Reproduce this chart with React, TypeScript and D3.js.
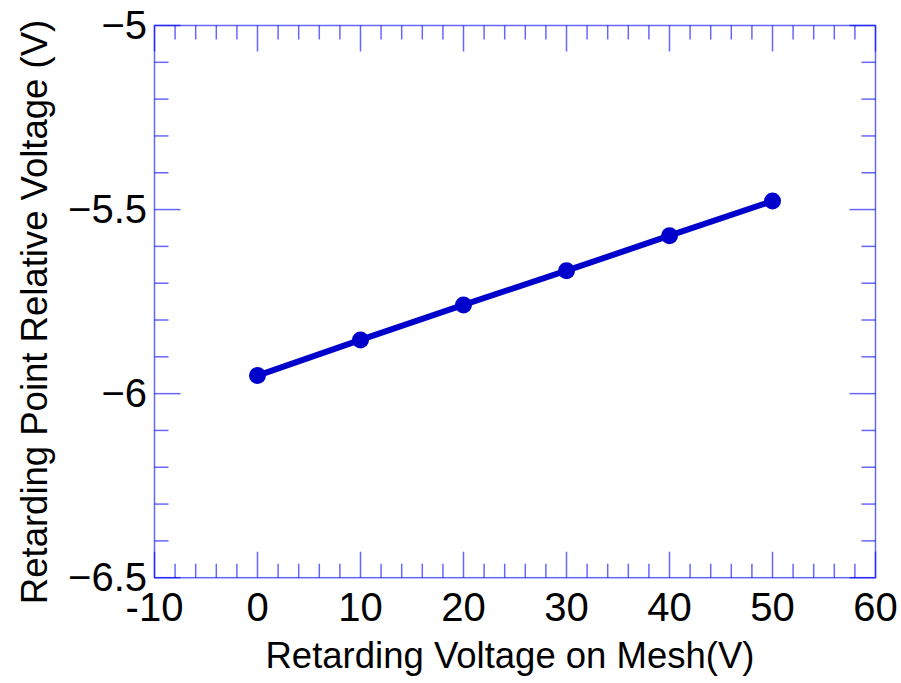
import React from "react";
import * as d3 from "d3";

const meshVoltage = [0, 10, 20, 30, 40, 50];
const retardingPoint = [-5.951, -5.854, -5.759, -5.666, -5.571, -5.477];
const xTickValues = [-10, 0, 10, 20, 30, 40, 50, 60];
const xTickLabels = ["-10", "0", "10", "20", "30", "40", "50", "60"];
const yTickValues = [-5, -5.5, -6, -6.5];
const yTickLabels = ["\u22125", "\u22125.5", "\u22126", "\u22126.5"];

const W = 901;
const H = 683;
const L = 154.5, R = 875.5, T = 25.5, B = 577.7;

export default function App() {
  const x = d3.scaleLinear().domain([-10, 60]).range([L, R]);
  const y = d3.scaleLinear().domain([-6.5, -5]).range([B, T]);
  const xMinor = d3.range(-10, 60.001, 2);
  const yMinor = d3.range(-6.5, -4.999, 0.1);
  const line = d3.line<number>().x((d, i) => x(meshVoltage[i])).y((d) => y(d));
  const axisColor = "#0000ff";
  const font = "Liberation Sans, Arial, sans-serif";
  const isMajorX = (v: number) => Math.abs(v / 10 - Math.round(v / 10)) < 1e-6;
  const isMajorY = (v: number) => Math.abs(v / 0.5 - Math.round(v / 0.5)) < 1e-6;
  return (
    <svg width={W} height={H} style={{ position: "absolute", left: 0, top: 0, background: "#fff" }}>
      <g stroke={axisColor} strokeOpacity={0.6} strokeWidth={1.5} fill="none">
        {xMinor.map((v, i) => {
          const len = isMajorX(v) ? 26 : 14;
          return (
            <g key={"xt" + i}>
              <line x1={x(v)} x2={x(v)} y1={B} y2={B - len} />
              <line x1={x(v)} x2={x(v)} y1={T} y2={T + len} />
            </g>
          );
        })}
        {yMinor.map((v, i) => {
          const len = isMajorY(v) ? 26 : 14;
          return (
            <g key={"yt" + i}>
              <line x1={L} x2={L + len} y1={y(v)} y2={y(v)} />
              <line x1={R} x2={R - len} y1={y(v)} y2={y(v)} />
            </g>
          );
        })}
        <rect x={L} y={T} width={R - L} height={B - T} />
      </g>
      <path d={line(retardingPoint) || ""} stroke="#0000cc" strokeWidth={6} fill="none" />
      {retardingPoint.map((v, i) => (
        <circle key={"p" + i} cx={x(meshVoltage[i])} cy={y(v)} r={8.5} fill="#0000cc" />
      ))}
      <g fontFamily={font} fontSize={40} fill="#000">
        {xTickValues.map((v, i) => (
          <text key={"xl" + v} x={x(v)} y={621} textAnchor="middle">{xTickLabels[i]}</text>
        ))}
        {yTickValues.map((v, i) => (
          <text key={"yl" + v} x={147} y={y(v) + 13} textAnchor="end">{yTickLabels[i]}</text>
        ))}
      </g>
      <g fontFamily={font} fontSize={36.5} fill="#000">
        <text x={(L + R) / 2 - 5} y={668} textAnchor="middle">Retarding Voltage on Mesh(V)</text>
        <text transform={`translate(47, ${312}) rotate(-90)`} textAnchor="middle">Retarding Point Relative Voltage (V)</text>
      </g>
    </svg>
  );
}
